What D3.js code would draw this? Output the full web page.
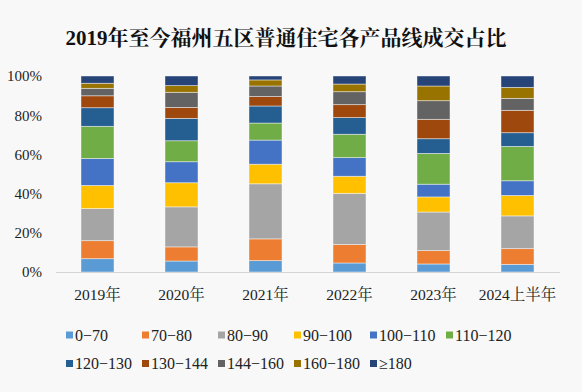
<!DOCTYPE html>
<html>
<head>
<meta charset="utf-8">
<script src="https://cdn.jsdelivr.net/npm/d3@7"></script>
<style>
  html, body { margin: 0; padding: 0; background: #f8f8f8; }
  svg { display: block; }
</style>
</head>
<body>
<script>
// ---- Data (percent shares) ----
const categories = ["2019年", "2020年", "2021年", "2022年", "2023年", "2024上半年"];
const seriesNames = ["0−70", "70−80", "80−90", "90−100", "100−110", "110−120",
                     "120−130", "130−144", "144−160", "160−180", "≥180"];
const s0_70    = [6.8, 5.6, 5.8, 4.6, 4.1, 3.9];
const s70_80   = [9.2, 7.2, 11.1, 9.4, 6.8, 8.0];
const s80_90   = [16.4, 20.4, 28.1, 26.1, 19.7, 16.7];
const s90_100  = [11.8, 12.3, 10.0, 8.7, 7.7, 10.4];
const s100_110 = [13.8, 10.7, 12.3, 9.5, 6.5, 7.5];
const s110_120 = [16.4, 10.7, 8.7, 11.9, 15.7, 17.5];
const s120_130 = [9.5, 11.4, 8.7, 8.5, 7.5, 7.0];
const s130_144 = [6.1, 5.6, 4.8, 6.6, 9.9, 11.4];
const s144_160 = [3.8, 7.7, 5.4, 6.6, 9.5, 6.1];
const s160_180 = [2.6, 3.4, 3.1, 3.9, 7.5, 5.6];
const s180up   = [3.7, 4.9, 2.0, 4.1, 5.1, 5.8];
const yTicks = [0, 0.2, 0.4, 0.6, 0.8, 1.0];
const colors = ["#5B9BD5", "#ED7D31", "#A5A5A5", "#FFC000", "#4472C4", "#70AD47",
                "#255E91", "#9E480E", "#636363", "#997300", "#264478"];
const title = "2019年至今福州五区普通住宅各产品线成交占比";

const seriesValues = [s0_70, s70_80, s80_90, s90_100, s100_110, s110_120,
                      s120_130, s130_144, s144_160, s160_180, s180up];

// Build table for d3.stack
const table = categories.map((c, i) => {
  const row = { category: c };
  seriesNames.forEach((n, j) => { row[n] = seriesValues[j][i]; });
  return row;
});

const W = 582, H = 392;
const FONT = '"Liberation Serif", "Noto Serif CJK SC", serif';

const svg = d3.select("body").append("svg")
  .attr("width", W).attr("height", H);

svg.append("rect").attr("width", W).attr("height", H).attr("fill", "#f8f8f8");

// Title
svg.append("text")
  .attr("x", 286).attr("y", 45)
  .attr("text-anchor", "middle")
  .style("font-family", FONT)
  .style("font-weight", "bold")
  .style("font-size", "21px")
  .attr("fill", "#111")
  .text(title);

const x = d3.scaleBand()
  .domain(categories)
  .range([55.5, 559.5])
  .paddingInner(0.607)
  .paddingOuter(0.3035);

const y = d3.scaleLinear().domain([0, 1]).range([272, 76]);

const stack = d3.stack().keys(seriesNames).offset(d3.stackOffsetExpand);
const stacked = stack(table);

// Bars
const layers = svg.append("g").selectAll("g")
  .data(stacked)
  .join("g")
  .attr("fill", (d, i) => colors[i]);

layers.selectAll("rect")
  .data(d => d)
  .join("rect")
  .attr("x", d => x(d.data.category))
  .attr("width", x.bandwidth())
  .attr("y", d => y(d[1]))
  .attr("height", d => y(d[0]) - y(d[1]))
  .attr("stroke", "#ffffff")
  .attr("stroke-opacity", 0.55)
  .attr("stroke-width", 0.8);

// Y axis
const yAxis = svg.append("g")
  .attr("transform", "translate(56,0)")
  .call(d3.axisLeft(y).tickValues(yTicks).tickFormat(d3.format(".0%")).tickSize(0).tickPadding(14));
yAxis.select(".domain").remove();
yAxis.attr("font-family", null).attr("font-size", null);
yAxis.selectAll("text")
  .style("font-family", FONT)
  .style("font-size", "15px")
  .attr("fill", "#222");

// X axis
const xAxis = svg.append("g")
  .attr("transform", "translate(0,272)")
  .call(d3.axisBottom(x).tickSize(0).tickPadding(17));
xAxis.attr("font-family", null).attr("font-size", null);
xAxis.select(".domain").attr("stroke", "#d4d4d4").attr("stroke-width", 1);
xAxis.selectAll("text")
  .style("font-family", FONT)
  .style("font-size", "15.5px")
  .attr("fill", "#222");

// Legend
const legend = svg.append("g");
const items = legend.selectAll("g")
  .data(seriesNames)
  .join("g")
  .attr("transform", (d, i) => {
    const col = i % 6, row = Math.floor(i / 6);
    return `translate(${66 + col * 76},${335 + row * 28.5})`;
  });
items.append("rect")
  .attr("x", 0).attr("y", -3.5)
  .attr("width", 7).attr("height", 7)
  .attr("fill", (d, i) => colors[i]);
items.append("text")
  .attr("x", 9).attr("y", 5.5)
  .style("font-family", FONT)
  .style("font-size", "16px")
  .attr("fill", "#222")
  .text(d => d);
</script>
</body>
</html>
